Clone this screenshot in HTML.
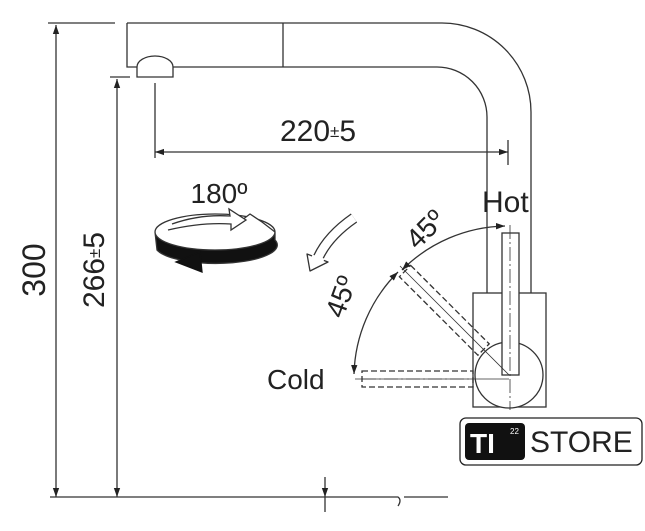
<!DOCTYPE html>
<html><head><style>
html,body{margin:0;padding:0;background:#fff;width:645px;height:531px;overflow:hidden}
svg{display:block}
text{font-family:"Liberation Sans",sans-serif;fill:#222}
</style></head><body>
<svg width="645" height="531" viewBox="0 0 645 531" xmlns="http://www.w3.org/2000/svg">
<defs>
<marker id="a" viewBox="0 0 10 10" refX="10" refY="5" markerWidth="9" markerHeight="9" orient="auto-start-reverse" markerUnits="userSpaceOnUse"><path d="M0,1.5 L10,5 L0,8.5 Z" fill="#222"/></marker>
</defs>
<g stroke="#333" stroke-width="1.3" fill="none">
<path d="M127,23 L442,23 A89,89 0 0 1 531,112 L531,293"/>
<path d="M127,23 L127,67 L437,67 A50,50 0 0 1 487,117 L487,293"/>
<line x1="283" y1="23" x2="283" y2="67"/>
<path d="M137,77 L137,67 A18,11 0 0 1 173,67 L173,77 Z" fill="#fff"/>
<rect x="473" y="293" width="73" height="114" fill="#fff"/>
<ellipse cx="509" cy="375" rx="34" ry="33" fill="#fff"/>
<rect x="502" y="233" width="17" height="142" fill="#fff"/>
<line x1="510" y1="225" x2="510" y2="410" stroke-width="0.8" stroke-dasharray="14,3,2,3"/>
<rect x="362" y="371" width="111" height="16" stroke-dasharray="6,3"/>
<line x1="362" y1="379" x2="473" y2="379" stroke-width="0.8" stroke-dasharray="14,3,2,3"/>
<g transform="rotate(45 509 375)"><rect x="362" y="367" width="111" height="16" stroke-dasharray="6,3" fill="none"/></g>
<line x1="509" y1="375" x2="400" y2="266" stroke-width="0.8"/>
<line x1="509" y1="379" x2="355" y2="379" stroke-width="0.8"/>
<line x1="48" y1="23" x2="115" y2="23"/>
<line x1="56" y1="25" x2="56" y2="497" marker-start="url(#a)" marker-end="url(#a)"/>
<line x1="110" y1="77" x2="130" y2="77"/>
<line x1="117" y1="79" x2="117" y2="497" marker-start="url(#a)" marker-end="url(#a)"/>
<line x1="155" y1="83" x2="155" y2="158"/>
<line x1="508" y1="140" x2="508" y2="165"/>
<line x1="155" y1="152" x2="508" y2="152" marker-start="url(#a)" marker-end="url(#a)"/>
<line x1="50" y1="497" x2="390" y2="497"/>
<path d="M390,497 L398,497 Q402,500 398,506 M404,497 L448,497"/>
<line x1="325" y1="477" x2="325" y2="497" marker-end="url(#a)"/>
<line x1="325" y1="497" x2="325" y2="512"/>
<path d="M505,226 A150,150 0 0 0 402,270" marker-start="url(#a)" marker-end="url(#a)"/>
<path d="M398,272 A150,150 0 0 0 354,374" marker-start="url(#a)" marker-end="url(#a)"/>
<!-- rotate icon -->
<path d="M155,232 A60,18 0 0 1 275,232"/>
<path d="M155,232 L157,250 A60,18 0 0 0 275,240 L275,232 A60,18 0 0 1 155,232 Z" fill="#111"/>
<path d="M200,252 L176,262 L202,272 Z" fill="#111" stroke="#111"/>
<path d="M242,220 L250,214 L262,222 L275,232" fill="#fff"/>
<path d="M172,224 Q200,214 230,216 L229,209 L246,220 L231,230 L231,224 Q202,222 168,230" fill="#fff"/>
</g>
<!-- curved arrow -->
<path d="M354,218 Q328,236 318,258" stroke="#333" stroke-width="11" fill="none"/>
<path d="M354,218 Q328,236 318,258" stroke="#fff" stroke-width="8.4" fill="none"/>
<path d="M307,254 L328,262 L310,271 Z" fill="#fff" stroke="#333" stroke-width="1.3" stroke-linejoin="round"/>
<line x1="312" y1="256" x2="324" y2="260" stroke="#fff" stroke-width="3"/>
<text x="318" y="141" font-size="30" text-anchor="middle">220<tspan font-size="17" dy="-4">±</tspan><tspan dy="4">5</tspan></text>
<text x="219" y="203" font-size="28" text-anchor="middle">180º</text>
<text x="482" y="212" font-size="30">Hot</text>
<text x="267" y="389" font-size="28">Cold</text>
<text x="0" y="0" font-size="28" transform="translate(432,236) rotate(-45)" text-anchor="middle">45º</text>
<text x="0" y="0" font-size="28" transform="translate(350,300) rotate(-70)" text-anchor="middle">45º</text>
<text x="0" y="0" font-size="32" transform="translate(45,270) rotate(-90)" text-anchor="middle">300</text>
<text x="0" y="0" font-size="30" transform="translate(104,270) rotate(-90)" text-anchor="middle">266<tspan font-size="17" dy="-4">±</tspan><tspan dy="4">5</tspan></text>
<rect x="460" y="418" width="182" height="47" rx="6" fill="#fff" stroke="#222" stroke-width="1.3"/>
<rect x="465" y="423" width="60" height="37" rx="4" fill="#111"/>
<text x="470" y="453" font-size="28" font-weight="bold" style="fill:#fff">TI</text>
<text x="510" y="434" font-size="8" style="fill:#fff">22</text>
<text x="530" y="452" font-size="30">STORE</text>
</svg>
</body></html>
